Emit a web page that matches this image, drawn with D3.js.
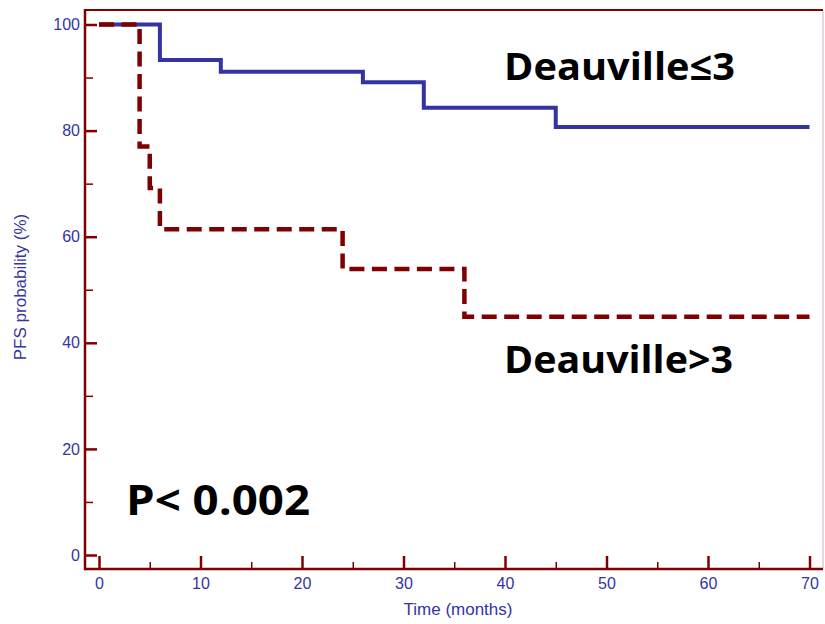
<!DOCTYPE html>
<html>
<head>
<meta charset="utf-8">
<script src="https://cdn.jsdelivr.net/npm/d3@7"></script>
<style>
  body { margin: 0; background: #fff; }
  svg { display: block; }
</style>
</head>
<body>
<div class="vis"></div>
<script>
// Kaplan-Meier steps
const lowTimes = [0, 6, 12, 26, 32, 45, 70];
const lowSurv = [100, 93.3, 91.1, 89.1, 84.3, 80.7, 80.7];
const highTimes = [0, 4, 5, 6, 24, 36, 70];
const highSurv = [100, 77.0, 69.2, 61.4, 53.9, 44.9, 44.9];

const xMajor = [0, 10, 20, 30, 40, 50, 60, 70];
const xMinor = [5, 15, 25, 35, 45, 55, 65];
const yMajor = [0, 20, 40, 60, 80, 100];
const yMinor = [10, 30, 50, 70, 90];

const W = 825, H = 624;
const frame = { left: 85, top: 10, right: 823, bottom: 569 };
const axisRed = "#800000", labelBlue = "#3434a4";

const svg = d3.select(".vis").append("svg")
    .attr("width", W)
    .attr("height", H);

const x = d3.scaleLinear().domain([0, 70]).range([99, 809.5]);
const y = d3.scaleLinear().domain([0, 100]).range([555, 24.5]);

// frame
svg.append("line").attr("x1", frame.right).attr("x2", frame.right)
    .attr("y1", frame.top).attr("y2", frame.bottom)
    .attr("stroke", "#e6c8c8").attr("stroke-width", 1.5);
svg.append("line").attr("x1", frame.left).attr("x2", frame.right)
    .attr("y1", frame.top).attr("y2", frame.top)
    .attr("stroke", axisRed).attr("stroke-width", 2);

// y axis
const yAxisG = svg.append("g").attr("transform", "translate(" + frame.left + ",0)");
yAxisG.call(d3.axisLeft(y).tickValues(yMajor).tickSize(-12).tickPadding(5))
    .call(g => g.select(".domain").remove());
yAxisG.append("g")
    .call(d3.axisLeft(y).tickValues(yMinor).tickSize(-8).tickFormat(""))
    .call(g => g.select(".domain").remove())
    .selectAll("line").attr("stroke-width", 1.5);

// x axis
const xAxisG = svg.append("g").attr("transform", "translate(0," + frame.bottom + ")");
xAxisG.call(d3.axisBottom(x).tickValues(xMajor).tickSize(-13).tickPadding(9))
    .call(g => g.select(".domain").remove());
xAxisG.append("g")
    .call(d3.axisBottom(x).tickValues(xMinor).tickSize(-7).tickFormat(""))
    .call(g => g.select(".domain").remove())
    .selectAll("line").attr("stroke-width", 1.5);

svg.selectAll(".tick line").attr("stroke", axisRed);
svg.selectAll(".tick line").filter(function () { return !this.getAttribute("stroke-width"); })
    .attr("stroke-width", 2.5);
svg.selectAll(".tick text")
    .attr("fill", labelBlue)
    .style("font-family", "'Liberation Sans', Arial, sans-serif")
    .style("font-size", "16px");

svg.append("line").attr("x1", frame.left).attr("x2", frame.left)
    .attr("y1", frame.top - 1).attr("y2", frame.bottom + 1.25)
    .attr("stroke", axisRed).attr("stroke-width", 2.5);
svg.append("line").attr("x1", frame.left).attr("x2", frame.right)
    .attr("y1", frame.bottom).attr("y2", frame.bottom)
    .attr("stroke", axisRed).attr("stroke-width", 2.5);

// axis titles
svg.append("text")
    .attr("x", 458).attr("y", 615)
    .attr("text-anchor", "middle")
    .attr("fill", labelBlue)
    .style("font-family", "'Liberation Sans', Arial, sans-serif")
    .style("font-size", "17px")
    .text("Time (months)");

svg.append("text")
    .attr("transform", "translate(26,287) rotate(-90)")
    .attr("text-anchor", "middle")
    .attr("fill", labelBlue)
    .style("font-family", "'Liberation Sans', Arial, sans-serif")
    .style("font-size", "17px")
    .text("PFS probability (%)");

// curves
const step = d3.line()
    .x(d => x(d[0]))
    .y(d => y(d[1]))
    .curve(d3.curveStepAfter);

svg.append("path")
    .datum(d3.zip(lowTimes, lowSurv))
    .attr("d", step)
    .attr("fill", "none")
    .attr("stroke", "#3333a3")
    .attr("stroke-width", 4);

svg.append("path")
    .datum(d3.zip(highTimes, highSurv))
    .attr("d", step)
    .attr("fill", "none")
    .attr("stroke", "#7f0000")
    .attr("stroke-width", 4.5)
    .attr("stroke-dasharray", "15,7.5");

// annotations
const bigFont = "'Open Sans', 'DejaVu Sans', sans-serif";
svg.append("text")
    .attr("x", 504).attr("y", 80)
    .attr("textLength", 231).attr("lengthAdjust", "spacingAndGlyphs")
    .style("font-family", bigFont).style("font-weight", "bold").style("font-size", "38px")
    .text("Deauville≤3");

svg.append("text")
    .attr("x", 504).attr("y", 373)
    .attr("textLength", 229).attr("lengthAdjust", "spacingAndGlyphs")
    .style("font-family", bigFont).style("font-weight", "bold").style("font-size", "38px")
    .text("Deauville>3");

svg.append("text")
    .attr("x", 126).attr("y", 515)
    .attr("textLength", 184).attr("lengthAdjust", "spacingAndGlyphs")
    .style("font-family", bigFont).style("font-weight", "bold").style("font-size", "42px")
    .text("P< 0.002");
</script>
</body>
</html>
